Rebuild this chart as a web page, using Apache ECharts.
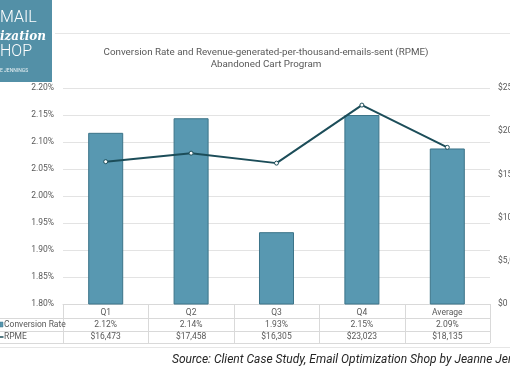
<!DOCTYPE html>
<html><head><meta charset="utf-8">
<script src="https://cdn.jsdelivr.net/npm/echarts@6/dist/echarts.min.js"></script>
<style>html,body{margin:0;padding:0;background:#fff}#c{width:510px;height:369px}</style>
</head><body><div id="c"></div>
<script>
var categories = ['Q1', 'Q2', 'Q3', 'Q4', 'Average'];
var conversionRate = [2.117, 2.144, 1.933, 2.150, 2.088];
var conversionRateLabels = ['2.12%', '2.14%', '1.93%', '2.15%', '2.09%'];
var rpme = [16473, 17458, 16305, 23023, 18135];
var titleLines = ['Conversion Rate and Revenue-generated-per-thousand-emails-sent (RPME)', 'Abandoned Cart Program'];
var sourceText = 'Source: Client Case Study, Email Optimization Shop by Jeanne Jennings';
var logoTexts = ['MAIL', 'ization', 'HOP', 'E JENNINGS'];

var FONT = 'Roboto, "Liberation Sans", sans-serif';
var GREY = '#595959';
function money(v){ return '$' + v.toString().replace(/\B(?=(\d{3})+(?!\d))/g, ','); }

var chart = echarts.init(document.getElementById('c'), null, {renderer:'canvas'});
var option = {
  animation: false,
  textStyle: {fontFamily: FONT},
  title: {
    text: titleLines.join('\n'), left: 261, top: 41, textAlign: 'center',
    textStyle: {fontSize: 9.8, fontWeight: 'normal', color: GREY, lineHeight: 12.5, fontFamily: FONT}
  },
  grid: {left: 63, right: 20, top: 88, bottom: 65, containLabel: false, outerBoundsMode: 'none'},
  xAxis: {
    type: 'category', data: categories,
    axisLine: {lineStyle: {color: '#d9d9d9'}}, axisTick: {show: false},
    axisLabel: {color: GREY, fontSize: 8.5, margin: 4}
  },
  yAxis: [
    {type: 'value', min: 1.8, max: 2.2, interval: 0.05,
     axisLabel: {formatter: function(v){ return v.toFixed(2) + '%'; }, color: GREY, fontSize: 8.5, margin: 9},
     axisLine: {show: false}, axisTick: {show: false},
     splitLine: {lineStyle: {color: '#e3e3e3', width: 1}}},
    {type: 'value', min: 0, max: 25000, interval: 5000,
     axisLabel: {formatter: money, color: GREY, fontSize: 8.5, margin: 8, hideOverlap: false},
     axisLine: {show: false}, axisTick: {show: false}, splitLine: {show: false}}
  ],
  series: [
    {name: 'Conversion Rate', type: 'bar', data: conversionRate, yAxisIndex: 0, barWidth: '41%',
     itemStyle: {color: '#5898B1', borderColor: '#3C7489', borderWidth: 1}},
    {name: 'RPME', type: 'line', data: rpme, yAxisIndex: 1,
     lineStyle: {color: '#1C4D59', width: 2},
     symbol: 'circle', symbolSize: 4, itemStyle: {color: '#fff', borderColor: '#1C4D59', borderWidth: 1}}
  ]
};
chart.setOption(option);

var g = [];
var lineC = '#d9d9d9';
g.push({type:'line', shape:{x1:55,y1:33.5,x2:510,y2:33.5}, style:{stroke:'#e6e6e6', lineWidth:1}});
g.push({type:'line', shape:{x1:0,y1:347.5,x2:510,y2:347.5}, style:{stroke:'#e6e6e6', lineWidth:1}});
var x0 = chart.convertToPixel({gridIndex:0}, [0, 1.8]);
var bottomY = x0[1];
var catW = (chart.convertToPixel({xAxisIndex:0}, 1) - chart.convertToPixel({xAxisIndex:0}, 0));
var leftX = chart.convertToPixel({xAxisIndex:0}, 0) - catW/2;
var rowYs = [bottomY + 14, bottomY + 27, bottomY + 39];
rowYs.forEach(function(y){
  g.push({type:'line', shape:{x1:0,y1:Math.round(y)+0.5,x2:leftX+catW*categories.length,y2:Math.round(y)+0.5}, style:{stroke:lineC,lineWidth:1}});
});
for (var i = 0; i <= categories.length; i++) {
  var xx = Math.round(leftX + catW*i) + 0.5;
  g.push({type:'line', shape:{x1:xx,y1:bottomY,x2:xx,y2:rowYs[2]}, style:{stroke:lineC,lineWidth:1}});
}
categories.forEach(function(c, i){
  var cx = chart.convertToPixel({xAxisIndex:0}, i);
  g.push({type:'text', x:cx, y:(rowYs[0]+rowYs[1])/2, style:{text:conversionRateLabels[i], fill:GREY, font:'8.5px ' + FONT, textAlign:'center', textVerticalAlign:'middle'}});
  g.push({type:'text', x:cx, y:(rowYs[1]+rowYs[2])/2, style:{text:money(rpme[i]), fill:GREY, font:'8.5px ' + FONT, textAlign:'center', textVerticalAlign:'middle'}});
});
g.push({type:'rect', shape:{x:0,y:(rowYs[0]+rowYs[1])/2-2.5,width:3,height:5}, style:{fill:'#5898B1', stroke:'#3C7489', lineWidth:0.5}});
g.push({type:'text', x:4, y:(rowYs[0]+rowYs[1])/2, style:{text:'Conversion Rate', fill:GREY, font:'8.5px ' + FONT, textVerticalAlign:'middle'}});
g.push({type:'line', shape:{x1:0,y1:(rowYs[1]+rowYs[2])/2,x2:3.5,y2:(rowYs[1]+rowYs[2])/2}, style:{stroke:'#1C4D59', lineWidth:1.5}});
g.push({type:'text', x:4, y:(rowYs[1]+rowYs[2])/2, style:{text:'RPME', fill:GREY, font:'8.5px ' + FONT, textVerticalAlign:'middle'}});
g.push({type:'text', x:172, y:360, style:{text:sourceText, fill:'#262626', font:'italic 12px ' + FONT, textVerticalAlign:'middle'}});
g.push({type:'rect', shape:{x:0,y:0,width:52,height:82}, style:{fill:'#5390A7'}});
g.push({type:'text', x:0, y:18, style:{text:logoTexts[0], fill:'#fff', font:'300 16px ' + FONT, textVerticalAlign:'middle'}});
g.push({type:'text', x:0, y:37, style:{text:logoTexts[1], fill:'#fff', font:'italic bold 12px "DejaVu Serif", serif', textVerticalAlign:'middle'}});
g.push({type:'text', x:0, y:52, style:{text:logoTexts[2], fill:'#fff', font:'300 16px ' + FONT, textVerticalAlign:'middle'}});
g.push({type:'text', x:0, y:71, style:{text:logoTexts[3], fill:'#e8f0f3', font:'5px ' + FONT, textVerticalAlign:'middle'}});
chart.setOption({graphic: g});
</script></body></html>
